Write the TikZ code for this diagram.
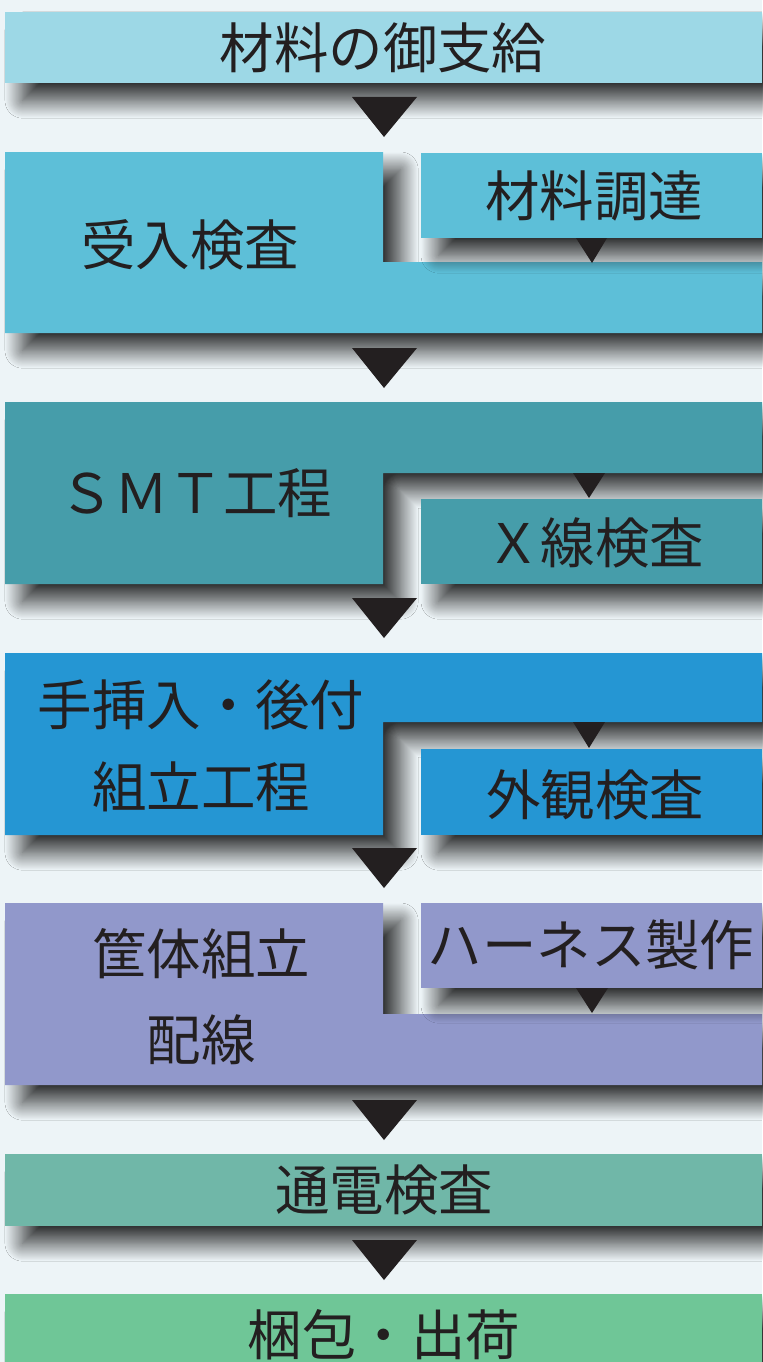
\documentclass[tikz,border=0pt]{standalone}
\usepackage{fontspec}
\newfontfamily\jpfont{Noto Sans CJK JP}
\usetikzlibrary{shadows.blur}
\definecolor{paper}{HTML}{EDF4F7}
\definecolor{ink}{HTML}{231F20}
\definecolor{cSupply}{HTML}{9DD8E6}
\definecolor{cAccept}{HTML}{5DBFD8}
\definecolor{cSmt}{HTML}{469DAA}
\definecolor{cManual}{HTML}{2596D3}
\definecolor{cCase}{HTML}{9198CB}
\definecolor{cPower}{HTML}{70B7A8}
\definecolor{cShip}{HTML}{6FC697}
\begin{document}
\begin{tikzpicture}[x=0.02cm,y=-0.02cm,
	stepbox/.style={blur shadow={shadow xshift=10pt,shadow yshift=-10pt,shadow blur radius=10pt,shadow blur steps=24,shadow opacity=80}},
	steptext/.style={font=\jpfont\fontsize{31}{43}\selectfont,text=ink,inner sep=0pt,align=center},
	arrowtri/.style={fill=ink}]
	% background
	\fill[paper] (0,0) rectangle (762,1362);
	\useasboundingbox (0,0) rectangle (762,1362);
	% material supply
	\fill[cSupply,stepbox] (5,12) rectangle (762,83);
	\node[steptext] (supply) at (383,48) {材料の御支給};
	\fill[arrowtri] (352,97) -- (417,97) -- (384,137) -- cycle;
	% incoming inspection
	\fill[cAccept,stepbox] (5,152) -- (383,152) -- (383,262) -- (762,262) -- (762,333) -- (5,333) -- cycle;
	\node[steptext] (accept) at (190,245) {受入検査};
	\fill[cAccept,stepbox] (421,153) rectangle (762,238);
	\node[steptext] (procure) at (594,196) {材料調達};
	\fill[arrowtri] (576,238) -- (607,238) -- (592,263) -- cycle;
	\fill[arrowtri] (352,348) -- (417,348) -- (384,388) -- cycle;
	% SMT
	\fill[cSmt,stepbox] (5,402) -- (762,402) -- (762,473) -- (383,473) -- (383,584) -- (5,584) -- cycle;
	\node[steptext] (smt) at (196,493) {ＳＭＴ工程};
	\fill[arrowtri] (573,473) -- (605,473) -- (589,498) -- cycle;
	\fill[cSmt,stepbox] (421,499) rectangle (762,584);
	\node[steptext] (xray) at (595,543) {Ｘ線検査};
	\fill[arrowtri] (352,598) -- (417,598) -- (384,638) -- cycle;
	% manual insertion
	\fill[cManual,stepbox] (5,653) -- (762,653) -- (762,722) -- (383,722) -- (383,835) -- (5,835) -- cycle;
	\node[steptext] (manual) at (201,746) {手挿入・後付\\[4pt]組立工程};
	\fill[arrowtri] (573,722) -- (605,722) -- (589,748) -- cycle;
	\fill[cManual,stepbox] (421,749) rectangle (762,835);
	\node[steptext] (visual) at (595,795) {外観検査};
	\fill[arrowtri] (352,848) -- (417,848) -- (384,888) -- cycle;
	% case assembly
	\fill[cCase,stepbox] (5,903) -- (383,903) -- (383,1014) -- (762,1014) -- (762,1085) -- (5,1085) -- cycle;
	\node[steptext] (case) at (201,997) {筐体組立\\[6pt]配線};
	\fill[cCase,stepbox] (421,903) rectangle (762,988);
	\node[steptext] (harness) at (591,945) {ハーネス製作};
	\fill[arrowtri] (576,988) -- (608,988) -- (592,1013) -- cycle;
	\fill[arrowtri] (352,1100) -- (417,1100) -- (384,1140) -- cycle;
	% power-on test
	\fill[cPower,stepbox] (5,1154) rectangle (762,1226);
	\node[steptext] (power) at (384,1190) {通電検査};
	\fill[arrowtri] (352,1240) -- (417,1240) -- (384,1280) -- cycle;
	% packing
	\fill[cShip,stepbox] (5,1294) rectangle (762,1380);
	\node[steptext] (ship) at (384,1335) {梱包・出荷};
\end{tikzpicture}
\end{document}
